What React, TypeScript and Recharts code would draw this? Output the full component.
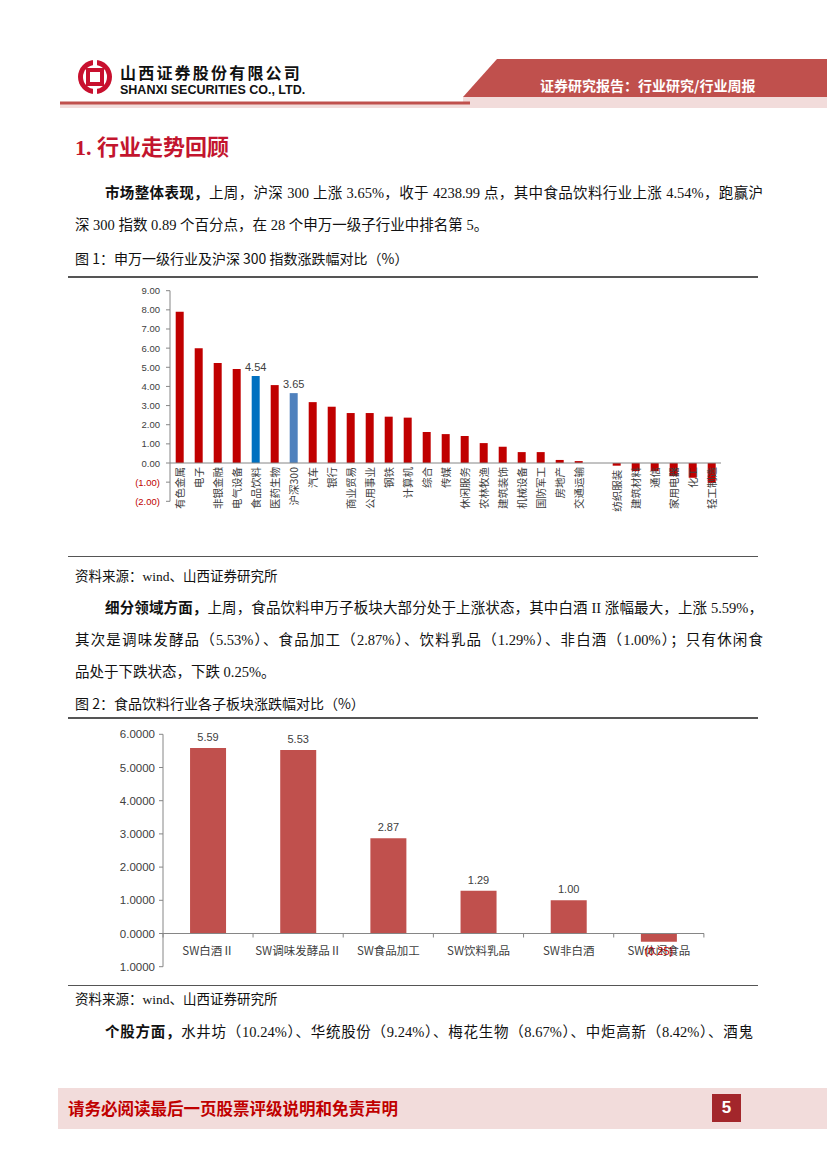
import React from "react";
import { BarChart, Bar, XAxis, YAxis, Cell, LabelList, ReferenceLine } from "recharts";

// 图1 申万一级行业 + 沪深300 周涨跌幅
const industries = [
  "有色金属", "电子", "非银金融", "电气设备", "食品饮料", "医药生物", "沪深300", "汽车",
  "银行", "商业贸易", "公用事业", "钢铁", "计算机", "综合", "传媒", "休闲服务",
  "农林牧渔", "建筑装饰", "机械设备", "国防军工", "房地产", "交通运输", "采掘",
  "纺织服装", "建筑材料", "通信", "家用电器", "化工", "轻工制造",
];
const industryChg = [
  7.9, 6.0, 5.22, 4.91, 4.54, 4.07, 3.65, 3.18, 2.94, 2.61, 2.61, 2.42, 2.37, 1.62, 1.51,
  1.41, 1.04, 0.85, 0.57, 0.57, 0.16, 0.1, 0, -0.14, -0.42, -0.42, -0.68, -0.77, -1.04,
];
const yTicks1 = [-2, -1, 0, 1, 2, 3, 4, 5, 6, 7, 8, 9];
const marked = ["食品饮料", "沪深300"];

// 图2 食品饮料子板块
const subSectors = ["SW白酒Ⅱ", "SW调味发酵品Ⅱ", "SW食品加工", "SW饮料乳品", "SW非白酒", "SW休闲食品"];
const subChg = [5.59, 5.53, 2.87, 1.29, 1.0, -0.25];
const yTicks2 = [-1, 0, 1, 2, 3, 4, 5, 6];

const data1 = industries.map((name, i) => ({ name, value: industryChg[i] }));
const data2 = subSectors.map((name, i) => ({ name, value: subChg[i] }));

const RED = "#C00000";
const AXIS = "#868686";
const LABEL = "#404040";
const CJK = "'Noto Sans CJK SC', 'Liberation Sans', sans-serif";
const LAT = "'Liberation Sans', 'Noto Sans CJK SC', sans-serif";
const SERIF = "'Liberation Serif', 'Noto Sans CJK SC', serif";
const GAP = 0.3; // category gap each side -> bar = 40% of band

const barColor = (name: string) =>
  name === "食品饮料" ? "#0070C0" : name === "沪深300" ? "#4F81BD" : RED;

// geometry of a bar from label props
function box(p: any) {
  const vb = p.viewBox && p.viewBox.width !== undefined ? p.viewBox : p;
  const x = Number(vb.x), y = Number(vb.y), w = Number(vb.width), h = Number(vb.height);
  return { cx: x + w / 2, w, top: Math.min(y, y + h), bottom: Math.max(y, y + h) };
}

const IndName = (p: any) => {
  const { cx, top, bottom } = box(p);
  const v = industryChg[p.index];
  const zero = v >= 0 ? bottom : top;
  return (
    <text
      transform={`translate(${cx + 4},${zero + 4}) rotate(-90)`}
      textAnchor="end"
      fontSize={10.5}
      fill={LABEL}
      fontFamily={CJK}
    >
      {p.value}
    </text>
  );
};

const IndValue = (p: any) => {
  if (!marked.includes(industries[p.index])) return null;
  const { cx, top } = box(p);
  return (
    <text x={cx} y={top - 5} textAnchor="middle" fontSize={11} fill={LABEL} fontFamily={LAT}>
      {Number(p.value).toFixed(2)}
    </text>
  );
};

const SubName = (p: any) => {
  const { cx, w, top, bottom } = box(p);
  const v = subChg[p.index];
  const zero = v >= 0 ? bottom : top;
  const band = w / (1 - 2 * GAP);
  return (
    <g>
      {p.index === 0 && (
        <line x1={cx - band / 2} x2={cx - band / 2} y1={zero} y2={zero + 4} stroke={AXIS} />
      )}
      <line x1={cx + band / 2} x2={cx + band / 2} y1={zero} y2={zero + 4} stroke={AXIS} />
      <text x={cx} y={zero + 21} textAnchor="middle" fontSize={11.5} fill={LABEL} fontFamily={CJK}>
        {p.value}
      </text>
    </g>
  );
};

const SubValue = (p: any) => {
  const { cx, top, bottom } = box(p);
  const v = Number(p.value);
  if (v < 0) {
    return (
      <text x={cx} y={bottom + 13} textAnchor="middle" fontSize={11} fill={RED} fontFamily={LAT}>
        {`(${Math.abs(v).toFixed(2)})`}
      </text>
    );
  }
  return (
    <text x={cx} y={top - 7} textAnchor="middle" fontSize={11} fill={LABEL} fontFamily={LAT}>
      {v.toFixed(2)}
    </text>
  );
};

const Tick1 = ({ x, y, payload }: any) => {
  const v = payload.value;
  return (
    <text x={x} y={y} dy={3.5} textAnchor="end" fontSize={9.5} fontFamily={LAT} fill={v < 0 ? RED : LABEL}>
      {v < 0 ? `(${Math.abs(v).toFixed(2)})` : v.toFixed(2)}
    </text>
  );
};

const Tick2 = ({ x, y, payload }: any) => (
  <text x={x} y={y} dy={4} textAnchor="end" fontSize={11.5} fontFamily={LAT} fill={LABEL}>
    {Math.abs(payload.value).toFixed(4)}
  </text>
);

const abs = (left: number, top: number, extra: React.CSSProperties = {}): React.CSSProperties => ({
  position: "absolute",
  left,
  top,
  ...extra,
});

// one justified text line, centre y given
const Line = ({ x, y, w, children, last }: any) => (
  <div
    style={abs(x, y - 11, {
      width: w,
      fontSize: 14.5,
      lineHeight: "22px",
      fontFamily: SERIF,
      color: "#111",
      textAlign: "justify",
      textAlignLast: last ? "left" : "justify",
      whiteSpace: "nowrap",
    })}
  >
    {children}
  </div>
);

const Rule = ({ y }: { y: number }) => (
  <div style={abs(68, y, { width: 690, height: 1.5, background: "#555" })} />
);

export default function App() {
  return (
    <div style={abs(0, 0, { width: 827, height: 1169, background: "#fff", overflow: "hidden" })}>
      {/* header */}
      <svg width={827} height={112} style={abs(0, 0)}>
        <circle cx={95} cy={77} r={17} fill="#C8102E" />
        <circle cx={95} cy={77} r={12} fill="#fff" />
        <rect x={86} y={68} width={18} height={18} fill="#C8102E" />
        <rect x={90} y={72} width={10} height={10} fill="#fff" />
        <rect x={93} y={60} width={4} height={8} fill="#fff" />
        <rect x={93} y={86} width={4} height={8} fill="#fff" />
        <rect x={60} y={104} width={767} height={4} fill="#F2DCDB" />
        <polygon points="497,59 827,59 827,97 463,97" fill="#C0504D" />
        <rect x={463} y={97} width={364} height={11} fill="#F2DCDB" />
        <rect x={60} y={101.5} width={410} height={3} fill="#C0504D" />
      </svg>
      <div
        style={abs(120, 63, {
          fontFamily: CJK,
          fontWeight: 700,
          fontSize: 16,
          letterSpacing: 2.2,
          color: "#111",
          lineHeight: "18px",
        })}
      >
        山西证券股份有限公司
      </div>
      <div style={abs(120, 83, { fontFamily: LAT, fontWeight: 700, fontSize: 12.5, color: "#111", lineHeight: "14px" })}>
        SHANXI SECURITIES CO., LTD.
      </div>
      <div
        style={abs(540, 75, {
          fontFamily: CJK,
          fontWeight: 700,
          fontSize: 14,
          color: "#fff",
          lineHeight: "20px",
          whiteSpace: "nowrap",
        })}
      >
        证券研究报告：行业研究/行业周报
      </div>

      {/* section title */}
      <div style={abs(75, 134, { fontFamily: SERIF, fontWeight: 700, fontSize: 22, color: "#C3152E", lineHeight: "28px" })}>
        1. 行业走势回顾
      </div>

      <Line x={105} y={193} w={658}>
        <b>市场整体表现，</b>上周，沪深 300 上涨 3.65%，收于 4238.99 点，其中食品饮料行业上涨 4.54%，跑赢沪
      </Line>
      <Line x={75} y={225} w={688} last>
        深 300 指数 0.89 个百分点，在 28 个申万一级子行业中排名第 5。
      </Line>
      <div style={abs(75, 248, { fontFamily: CJK, fontSize: 14, color: "#111", lineHeight: "20px" })}>
        图 1：申万一级行业及沪深 300 指数涨跌幅对比（%）
      </div>
      <Rule y={276} />

      <div style={abs(100, 280)}>
        <BarChart width={640} height={270} data={data1} margin={{ top: 10.7, right: 19, bottom: 48.7, left: 0 }} barCategoryGap="30%">
          <XAxis dataKey="name" hide />
          <YAxis
            type="number"
            domain={[-2, 9]}
            ticks={yTicks1}
            interval={0}
            width={70}
            tick={<Tick1 />}
            axisLine={{ stroke: AXIS }}
            tickLine={{ stroke: AXIS }}
            tickSize={4}
            tickMargin={6}
          />
          <ReferenceLine y={0} stroke={AXIS} />
          <Bar dataKey="value" isAnimationActive={false}>
            {data1.map((d) => (
              <Cell key={d.name} fill={barColor(d.name)} />
            ))}
            <LabelList dataKey="name" content={<IndName />} />
            <LabelList dataKey="value" content={<IndValue />} />
          </Bar>
        </BarChart>
      </div>

      <Rule y={555.5} />
      <div style={abs(75, 567, { fontFamily: SERIF, fontSize: 13.5, color: "#111", lineHeight: "20px" })}>
        资料来源：wind、山西证券研究所
      </div>

      <Line x={105} y={608} w={658}>
        <b>细分领域方面，</b>上周，食品饮料申万子板块大部分处于上涨状态，其中白酒 II 涨幅最大，上涨 5.59%，
      </Line>
      <Line x={75} y={640} w={688}>
        其次是调味发酵品（5.53%）、食品加工（2.87%）、饮料乳品（1.29%）、非白酒（1.00%）；只有休闲食
      </Line>
      <Line x={75} y={672} w={688} last>
        品处于下跌状态，下跌 0.25%。
      </Line>
      <div style={abs(75, 693, { fontFamily: CJK, fontSize: 14, color: "#111", lineHeight: "20px" })}>
        图 2：食品饮料行业各子板块涨跌幅对比（%）
      </div>
      <Rule y={717} />

      <div style={abs(93, 720)}>
        <BarChart width={640} height={265} data={data2} margin={{ top: 14.3, right: 29, bottom: 18.3, left: 0 }} barCategoryGap="30%">
          <XAxis dataKey="name" hide />
          <YAxis
            type="number"
            domain={[-1, 6]}
            ticks={yTicks2}
            interval={0}
            width={70}
            tick={<Tick2 />}
            axisLine={{ stroke: AXIS }}
            tickLine={{ stroke: AXIS }}
            tickSize={4}
            tickMargin={4}
          />
          <ReferenceLine y={0} stroke={AXIS} />
          <Bar dataKey="value" fill="#C0504D" isAnimationActive={false}>
            <LabelList dataKey="name" content={<SubName />} />
            <LabelList dataKey="value" content={<SubValue />} />
          </Bar>
        </BarChart>
      </div>

      <Rule y={984.5} />
      <div style={abs(75, 990, { fontFamily: SERIF, fontSize: 13.5, color: "#111", lineHeight: "20px" })}>
        资料来源：wind、山西证券研究所
      </div>
      <Line x={105} y={1032} w={648}>
        <b>个股方面，</b>水井坊（10.24%）、华统股份（9.24%）、梅花生物（8.67%）、中炬高新（8.42%）、酒鬼
      </Line>

      {/* footer */}
      <div style={abs(58, 1088, { width: 769, height: 41, background: "#F2DCDB" })} />
      <div style={abs(68, 1097, { fontFamily: CJK, fontWeight: 700, fontSize: 16.5, color: RED, lineHeight: "22px" })}>
        请务必阅读最后一页股票评级说明和免责声明
      </div>
      <div
        style={abs(712, 1094, {
          width: 29,
          height: 28,
          background: "#A3262B",
          color: "#fff",
          fontFamily: LAT,
          fontWeight: 700,
          fontSize: 17,
          lineHeight: "28px",
          textAlign: "center",
        })}
      >
        5
      </div>
    </div>
  );
}
